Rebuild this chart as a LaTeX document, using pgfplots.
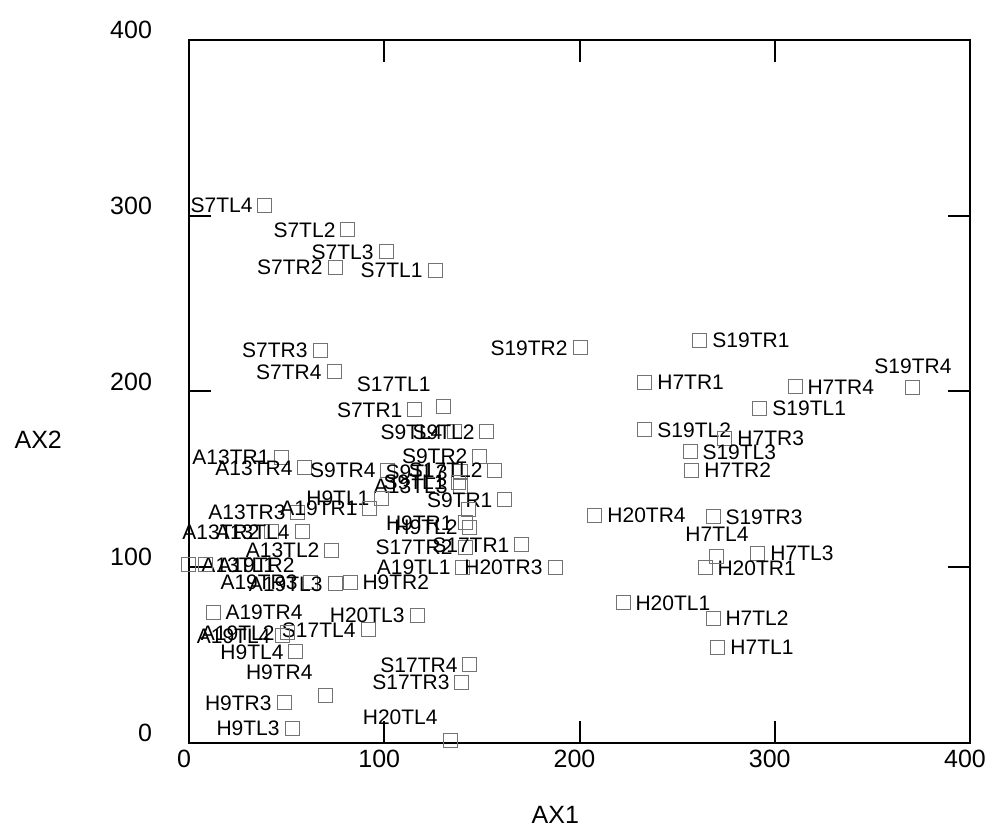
\documentclass[border=0pt]{standalone}
\usepackage{fontspec}
\setmainfont{Liberation Sans}
\usepackage{pgfplots}
\usepackage{pgfplotstable}
\pgfplotsset{compat=1.18}

% labels left of the square
\pgfplotstableread{
x y label
38.9 306.1 S7TL4
81.4 291.9 S7TL2
100.9 279.4 S7TL3
74.8 270.8 S7TR2
126.0 269.1 S7TL1
67.1 223.6 S7TR3
74.3 211.1 S7TR4
115.7 189.5 S7TR1
136.2 177.0 S9TL4
152.6 177.0 S9TL2
47.6 162.7 A13TR1
149.0 163.3 S9TR2
59.4 156.5 A13TR4
101.9 155.3 S9TR4
138.8 154.2 S9TL3
156.7 155.3 S17TL2
137.8 148.5 S9TL1
138.8 146.2 A13TL3
161.8 138.3 S9TR1
98.8 139.4 H9TL1
55.8 131.4 A13TR3
92.7 133.7 A19TR1
141.4 125.2 H9TR1
143.9 122.9 H9TL2
42.5 120.1 A13TR2
57.9 120.1 A13TL4
141.4 111.5 S17TR2
170.5 112.7 S17TR1
73.2 109.8 A13TL2
140.3 100.1 A19TL1
187.5 100.1 H20TR3
62.0 91.6 A19TR3
74.8 90.5 A19TL3
116.8 72.8 H20TL3
91.7 64.3 S17TL4
50.2 62.6 A19TL2
48.1 60.9 A19TL4
54.8 51.8 H9TL4
143.9 44.4 S17TR4
139.8 34.7 S17TR3
48.7 22.8 H9TR3
52.8 8.5 H9TL3
200.3 224.8 S19TR2
}\leftlab

% labels right of the square
\pgfplotstableread{
x y label
261.7 229.3 S19TR1
233.5 205.4 H7TR1
310.4 202.6 H7TR4
292.4 190.6 S19TL1
233.5 178.1 S19TL2
274.5 173.5 H7TR3
256.6 165.6 S19TL3
257.6 155.3 H7TR2
207.9 129.7 H20TR4
268.4 128.6 S19TR3
291.4 108.1 H7TL3
264.3 99.6 H20TR1
222.3 79.7 H20TL1
268.4 71.1 H7TL2
270.9 54.6 H7TL1
12.3 74.5 A19TR4
82.5 91.6 H9TR2
0.0 101.3 A13TL1
8.2 101.3 A19TR2
}\rightlab

% labels above left of the square
\pgfplotstableread{
x y label
130.1 191.2 S17TL1
69.7 27.3 H9TR4
133.7 1.7 H20TL4
}\upleftlab

% labels above the square
\pgfplotstableread{
x y label
370.8 202.0 S19TR4
270.4 106.4 H7TL4
}\uplab

\newcommand{\lab}{\fontsize{10.5bp}{12bp}\selectfont}
\newcommand{\tic}{\fontsize{12.5bp}{15bp}\selectfont}

\begin{document}
\begin{tikzpicture}
\begin{axis}[
  name=ax, scale only axis,
  width=390.5bp, height=351.5bp,
  xmin=0, xmax=400, ymin=0, ymax=400,
  xtick={0,100,200,300,400}, ytick={0,100,200,300,400},
  tick align=inside, major tick length=11bp,
  axis line style={line width=1bp},
  every tick/.style={black, line width=1bp},
  tick label style={font=\tic},
  xticklabel style={xshift=-2.5bp},
  yticklabel style={xshift=-15bp, yshift=5bp},
  /pgf/number format/assume math mode=true,
  xlabel={AX1}, ylabel={AX2},
  label style={font=\tic},
  xlabel style={at={(axis description cs:0.469,-0.102)}, anchor=center},
  ylabel style={rotate=-90, at={(axis description cs:-0.193,0.431)}, anchor=center},
  clip=false,
  point meta=explicit symbolic,
]
\pgfplotsset{sq/.style={only marks, mark=square, mark size=3.5bp,
    mark options={draw=black!55, line width=0.5bp}}}
\addplot[sq, nodes near coords,
  every node near coord/.append style={anchor=east, xshift=-6bp, inner sep=0pt, font=\lab, text=black}]
  table[x=x, y=y, meta=label] {\leftlab};
\addplot[sq, nodes near coords,
  every node near coord/.append style={anchor=west, xshift=6bp, inner sep=0pt, font=\lab, text=black}]
  table[x=x, y=y, meta=label] {\rightlab};
\addplot[sq, nodes near coords,
  every node near coord/.append style={anchor=east, xshift=-6bp, yshift=11.5bp, inner sep=0pt, font=\lab, text=black}]
  table[x=x, y=y, meta=label] {\upleftlab};
\addplot[sq, nodes near coords,
  every node near coord/.append style={anchor=center, yshift=11bp, inner sep=0pt, font=\lab, text=black}]
  table[x=x, y=y, meta=label] {\uplab};
\addplot[sq, point meta=none] coordinates {(142.9,132.6)};
\end{axis}
\pgfresetboundingbox
\path[use as bounding box] ([shift={(-94.5bp,-42bp)}]ax.south west) rectangle ([shift={(9bp,20bp)}]ax.north east);
\end{tikzpicture}
\end{document}
